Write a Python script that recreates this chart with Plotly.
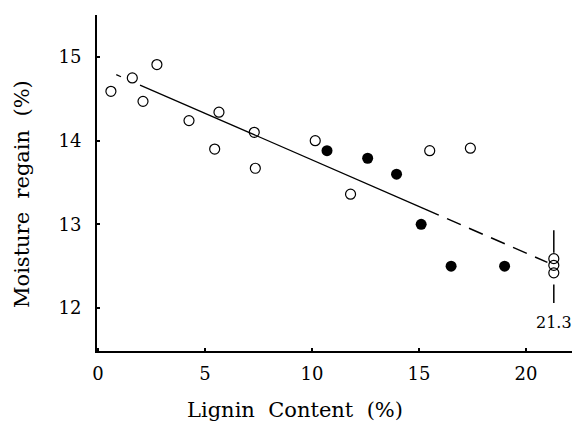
import plotly.graph_objects as go

# Open circles (lignin %, moisture regain %)
open_x = [0.6, 1.6, 2.1, 2.75, 4.25, 5.45, 5.65, 7.3, 7.35, 10.15, 11.8, 15.5, 17.4, 21.3, 21.3, 21.3]
open_y = [14.59, 14.75, 14.47, 14.91, 14.24, 13.9, 14.34, 14.1, 13.67, 14.0, 13.36, 13.88, 13.91, 12.59, 12.51, 12.42]
# Filled circles
fill_x = [10.7, 12.6, 13.95, 15.1, 16.5, 19.0]
fill_y = [13.88, 13.79, 13.6, 13.0, 12.5, 12.5]

# Regression line y = a + b*x and its drawn segments
fit_a = 14.883
fit_b = -0.1113
seg_short = [0.85, 1.07]
seg_solid = [1.96, 15.28]
seg_dash = [15.28, 21.0]

mark_x = 21.3
mark_top = [12.93, 12.66]
mark_bot = [12.28, 12.06]
mark_label = "21.3"

x_ticks = [0, 5, 10, 15, 20]
y_ticks = [12, 13, 14, 15]
x_title = "Lignin  Content  (%)"
y_title = "Moisture  regain  (%)"

FONT = "DejaVu Serif"

def f(xs):
    return [fit_a + fit_b * v for v in xs]

fig = go.Figure()
fig.add_trace(go.Scatter(x=seg_short, y=f(seg_short), mode="lines",
                         line=dict(color="black", width=1.3), showlegend=False))
fig.add_trace(go.Scatter(x=seg_solid, y=f(seg_solid), mode="lines",
                         line=dict(color="black", width=1.3), showlegend=False))
fig.add_trace(go.Scatter(x=seg_dash, y=f(seg_dash), mode="lines",
                         line=dict(color="black", width=1.5, dash="15px,9px"), showlegend=False))
fig.add_trace(go.Scatter(x=[mark_x, mark_x], y=mark_top, mode="lines",
                         line=dict(color="black", width=1.5), showlegend=False))
fig.add_trace(go.Scatter(x=[mark_x, mark_x], y=mark_bot, mode="lines",
                         line=dict(color="black", width=1.5), showlegend=False))
fig.add_trace(go.Scatter(x=open_x, y=open_y, mode="markers",
                         marker=dict(symbol="circle-open", size=10, color="black",
                                     line=dict(width=1.2, color="black")),
                         showlegend=False))
fig.add_trace(go.Scatter(x=fill_x, y=fill_y, mode="markers",
                         marker=dict(symbol="circle", size=11, color="black"),
                         showlegend=False))
fig.add_annotation(x=mark_x, y=11.83, text=mark_label, showarrow=False,
                   font=dict(family=FONT, size=16, color="black"))

# Axis titles placed to match the original page layout
fig.add_annotation(xref="paper", yref="paper", x=(295 - 97) / 475, y=-(410 - 351) / 336,
                   text=x_title, showarrow=False, xanchor="center", yanchor="middle",
                   font=dict(family=FONT, size=21, color="black"))
fig.add_annotation(xref="paper", yref="paper", x=-(97 - 22) / 475, y=(351 - 194) / 336,
                   text=y_title, showarrow=False, textangle=-90, xanchor="center", yanchor="middle",
                   font=dict(family=FONT, size=21, color="black"))

fig.update_layout(
    width=574, height=423,
    margin=dict(l=97, r=2, t=15, b=72),
    paper_bgcolor="white", plot_bgcolor="white",
    font=dict(family=FONT, size=18, color="black"),
    xaxis=dict(range=[-0.05, 22.15], tickvals=x_ticks, showgrid=False, zeroline=False,
               showline=True, linecolor="black", linewidth=2,
               ticks="inside", ticklen=3, tickwidth=2, tickcolor="black",
               ticklabelstandoff=5),
    yaxis=dict(range=[11.486, 15.502], tickvals=y_ticks, showgrid=False, zeroline=False,
               showline=True, linecolor="black", linewidth=2,
               ticks="inside", ticklen=3, tickwidth=2, tickcolor="black",
               ticklabelstandoff=10),
)

fig.write_html("out.html")
